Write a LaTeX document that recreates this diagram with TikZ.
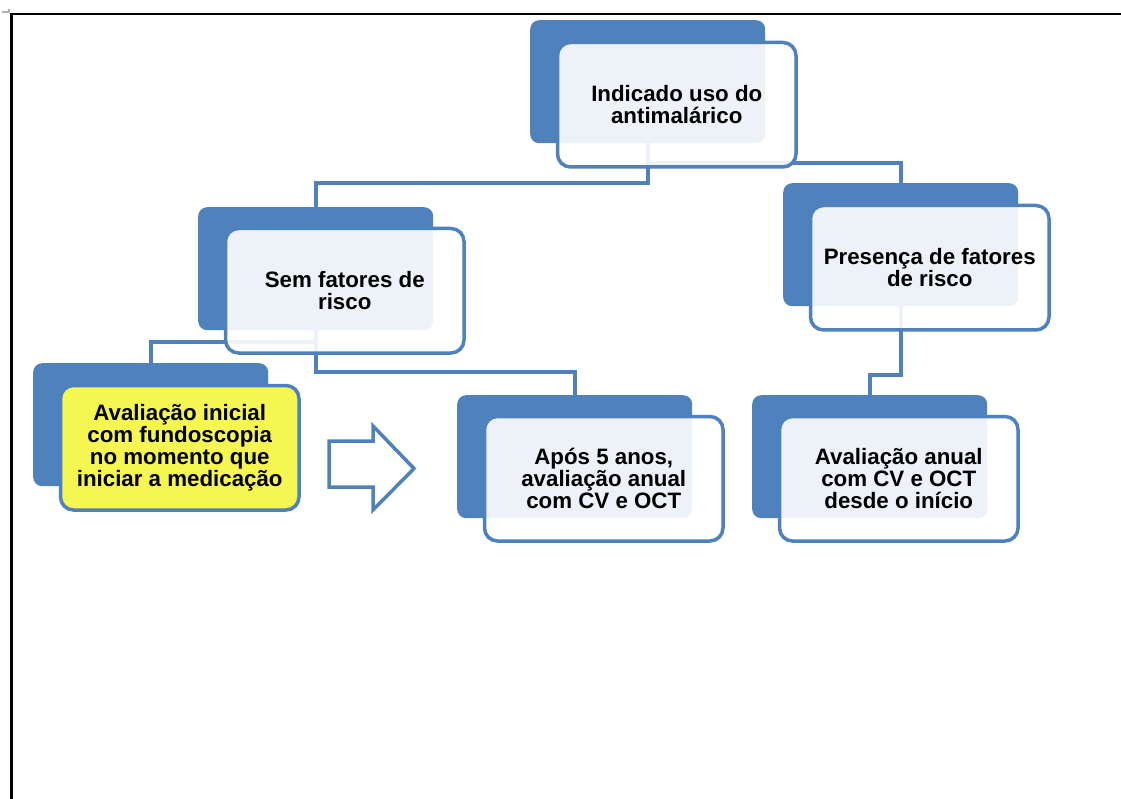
\documentclass[tikz,border=0pt]{standalone}
\usepackage{fontspec}
\setmainfont{Liberation Sans}
\usetikzlibrary{backgrounds}
\definecolor{sablue}{RGB}{79,129,189}
\definecolor{sayellow}{RGB}{246,246,82}
\begin{document}
\begin{tikzpicture}[x=1pt,y=-1pt,
  back/.style={fill=sablue, draw=none, rounded corners=9pt, minimum width=235pt,
    minimum height=123pt, anchor=north west, inner sep=0pt},
  front/.style={draw=sablue, line width=3.5pt, fill=white, fill opacity=0.9,
    text opacity=1, rounded corners=13pt, minimum width=238.5pt, minimum height=124.5pt,
    anchor=north west, inner sep=0pt, align=center,
    font=\bfseries\fontsize{22.3pt}{22pt}\selectfont},
  hilite/.style={fill=sayellow, fill opacity=1},
  conn/.style={draw=sablue, line width=4pt},
  bigarrow/.style={draw=sablue, line width=3.5pt, fill=white, line join=miter},
  frame/.style={draw=black, line width=2.2pt}]
\useasboundingbox (0,0) rectangle (1121,799);
% frame
\draw[frame] (1121,14) -- (11.5,14) -- (11.5,799);
\draw[gray!60, line width=1.2pt] (2,12) -- (9,12) -- (9,9);
% boxes
\node[back] (b1) at (530,20) {};
\node[front] (f1) at (555.75,40.75) {Indicado uso do\\antimalárico};
\node[back] (b2) at (198,207) {};
\node[front] (f2) at (223.75,226.75) {Sem fatores de\\risco};
\node[back] (b3) at (783,183) {};
\node[front] (f3) at (808.75,203.75) {Presença de fatores\\de risco};
\node[back] (b4) at (33,363) {};
\node[front, hilite] (f4) at (58.75,383.75) {Avaliação inicial\\com fundoscopia\\no momento que\\iniciar a medicação};
\node[back] (b5) at (457,395) {};
\node[front] (f5) at (482.75,414.75) {Após 5 anos,\\avaliação anual\\com CV e OCT};
\node[back] (b6) at (752,395) {};
\node[front] (f6) at (777.75,414.75) {Avaliação anual\\com CV e OCT\\desde o início};
% block arrow
\draw[bigarrow] (329,441) -- (373,441) -- (373,426) -- (414,468.5) -- (373,510) -- (373,487) -- (329,487) -- cycle;
% connectors
\begin{scope}[on background layer]
\draw[conn] (b1.south) -- ++(0,40) -| (b2.north);
\draw[conn] (b1.south) -- ++(0,20) -| (b3.north);
\draw[conn] (b2.south) -- ++(0,12) -| (b4.north);
\draw[conn] (b2.south) -- ++(0,42) -| (b5.north);
\draw[conn] (b3.south) -- ++(0,69) -| (b6.north);
\end{scope}
\end{tikzpicture}
\end{document}
